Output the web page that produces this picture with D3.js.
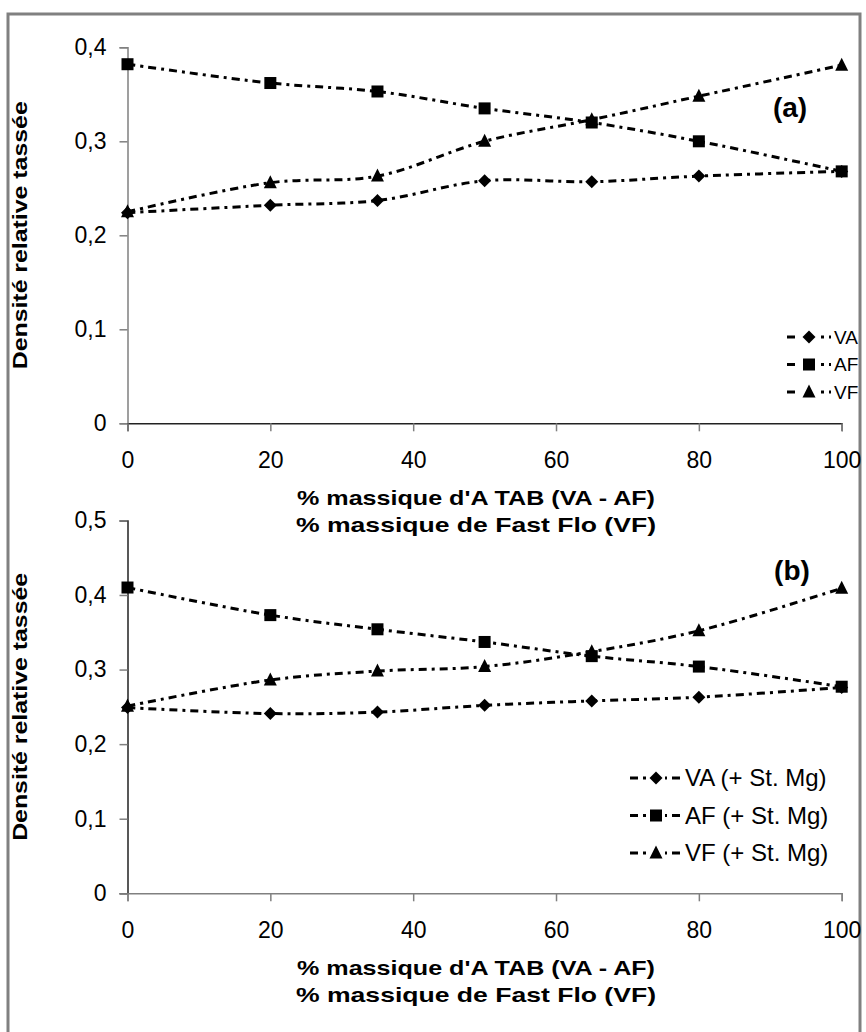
<!DOCTYPE html>
<html><head><meta charset="utf-8">
<script src="https://cdn.jsdelivr.net/npm/d3@7"></script>
<style>
html,body{margin:0;padding:0;background:#fff;}
text{font-family:"Liberation Sans",Arial,sans-serif;fill:#000;}
</style></head>
<body><svg id="c" width="866" height="1032"></svg>
<script>
const xValues = [0, 20, 35, 50, 65, 80, 100];
const xTicks = [0, 20, 40, 60, 80, 100];
const yTicksA = [0, 0.1, 0.2, 0.3, 0.4];
const yTicksB = [0, 0.1, 0.2, 0.3, 0.4, 0.5];
const seriesNamesA = ["VA", "AF", "VF"];
const seriesNamesB = ["VA (+ St. Mg)", "AF (+ St. Mg)", "VF (+ St. Mg)"];
const aVA = [0.224, 0.232, 0.237, 0.258, 0.257, 0.263, 0.268];
const aAF = [0.382, 0.362, 0.353, 0.335, 0.320, 0.300, 0.268];
const aVF = [0.225, 0.256, 0.263, 0.300, 0.323, 0.348, 0.381];
const bVA = [0.249, 0.241, 0.243, 0.252, 0.258, 0.263, 0.276];
const bAF = [0.410, 0.373, 0.354, 0.337, 0.318, 0.304, 0.277];
const bVF = [0.251, 0.286, 0.298, 0.304, 0.324, 0.352, 0.409];
const xTitle1 = "% massique d'A TAB (VA - AF)";
const xTitle2 = "% massique de Fast Flo (VF)";
const yTitle = "Densité relative tassée";

const svg = d3.select("#c");
svg.append("rect").attr("x", 8).attr("y", 14).attr("width", 852).attr("height", 1030)
  .attr("fill", "none").attr("stroke", "#808080").attr("stroke-width", 3);

const fmt = v => (v === 0 ? "0" : d3.format(".1f")(v).replace(".", ","));
const DASH = "8,5,3,5";

function marker(g, type, x, y) {
  if (type === 0) {
    const s = 6.5;
    g.append("path").attr("d", `M${x},${y - s}L${x + s},${y}L${x},${y + s}L${x - s},${y}Z`).attr("fill", "#000");
  } else if (type === 1) {
    const s = 6;
    g.append("rect").attr("x", x - s).attr("y", y - s).attr("width", 2 * s).attr("height", 2 * s).attr("fill", "#000");
  } else {
    const s = 6.5;
    g.append("path").attr("d", `M${x},${y - s - 1}L${x + s},${y + s * 0.85}L${x - s},${y + s * 0.85}Z`).attr("fill", "#000");
  }
}

function panel(opt) {
  const g = svg.append("g");
  const x = d3.scaleLinear().domain([0, 100]).range([127.5, 841.7]);
  const y = d3.scaleLinear().domain([0, opt.ymax]).range([opt.y0, opt.ytop]);

  const ya = g.append("g").attr("transform", `translate(${x(0)},0)`)
    .call(d3.axisLeft(y).tickValues(opt.yTicks).tickSize(8).tickPadding(13).tickFormat(fmt));
  ya.select(".domain").attr("stroke", opt.yColor).attr("stroke-width", 1.5);
  ya.selectAll(".tick line").attr("stroke", "#808080").attr("stroke-width", 1.5);
  ya.selectAll(".tick text").attr("font-size", 23).attr("font-family", "Liberation Sans, Arial, sans-serif").attr("fill", "#000");

  const xa = g.append("g").attr("transform", `translate(0,${y(0)})`)
    .call(d3.axisBottom(x).tickValues(xTicks).tickSize(8).tickPadding(20).tickFormat(d3.format("d")));
  xa.select(".domain").attr("stroke", opt.xColor).attr("stroke-width", 1.5);
  xa.selectAll(".tick line").attr("stroke", "#808080").attr("stroke-width", 1.5);
  xa.selectAll(".tick text").attr("font-size", 23).attr("font-family", "Liberation Sans, Arial, sans-serif").attr("fill", "#000");

  g.append("text").attr("x", 476).attr("y", y(0) + 82).attr("text-anchor", "middle")
    .attr("font-size", 21).attr("font-weight", "bold")
    .attr("textLength", 358).attr("lengthAdjust", "spacingAndGlyphs").text(xTitle1);
  g.append("text").attr("x", 476).attr("y", y(0) + 109).attr("text-anchor", "middle")
    .attr("font-size", 21).attr("font-weight", "bold")
    .attr("textLength", 360).attr("lengthAdjust", "spacingAndGlyphs").text(xTitle2);
  const ym = (y(0) + y(opt.ymax)) / 2;
  g.append("text").attr("transform", `translate(27,${ym}) rotate(-90)`).attr("text-anchor", "middle")
    .attr("font-size", 21).attr("font-weight", "bold")
    .attr("textLength", 268).attr("lengthAdjust", "spacingAndGlyphs").text(yTitle);

  const line = d3.line().x((d, i) => x(xValues[i])).y(d => y(d)).curve(d3.curveCatmullRom.alpha(0.5));
  opt.series.forEach(s => {
    g.append("path").attr("d", line(s)).attr("fill", "none").attr("stroke", "#000")
      .attr("stroke-width", 3).attr("stroke-dasharray", DASH);
  });
  opt.series.forEach((s, k) => {
    s.forEach((v, i) => marker(g, k, x(xValues[i]), y(v)));
  });

  g.append("text").attr("x", opt.labX).attr("y", opt.labY).attr("text-anchor", "middle")
    .attr("font-size", 28).attr("font-weight", "bold").text(opt.label);

  opt.names.forEach((n, k) => {
    const ly = opt.legY + k * opt.legDy;
    g.append("line").attr("x1", opt.legX).attr("x2", opt.legX + opt.legW).attr("y1", ly).attr("y2", ly)
      .attr("stroke", "#000").attr("stroke-width", 3).attr("stroke-dasharray", DASH);
    g.append("rect").attr("x", opt.legX + opt.legW / 2 - 9).attr("y", ly - 8).attr("width", 18).attr("height", 16).attr("fill", "#fff");
    marker(g, k, opt.legX + opt.legW / 2, ly);
    g.append("text").attr("x", opt.legX + opt.legW + 3).attr("y", ly).attr("dy", "0.35em")
      .attr("font-size", opt.legFont).text(n);
  });
}

panel({ ymax: 0.4, y0: 423.3, ytop: 47.3, yTicks: yTicksA, yColor: "#808080", xColor: "#222",
  series: [aVA, aAF, aVF], names: seriesNamesA, label: "(a)", labX: 790, labY: 117,
  legX: 787, legY: 337, legDy: 27.5, legW: 44, legFont: 19 });
panel({ ymax: 0.5, y0: 893.3, ytop: 520.4, yTicks: yTicksB, yColor: "#222", xColor: "#808080",
  series: [bVA, bAF, bVF], names: seriesNamesB, label: "(b)", labX: 792, labY: 580,
  legX: 630, legY: 778, legDy: 37.5, legW: 52, legFont: 24 });
</script></body></html>
